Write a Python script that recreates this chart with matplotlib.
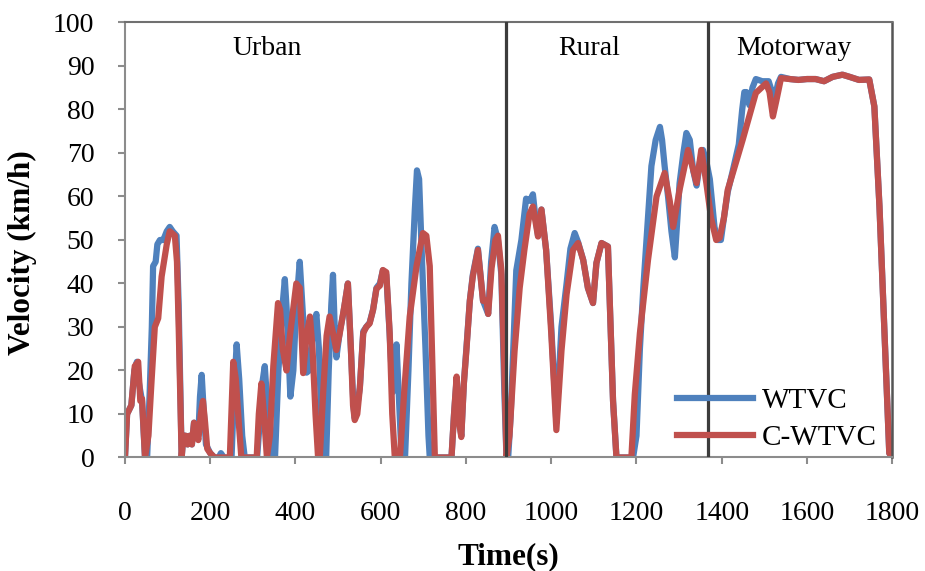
import matplotlib
matplotlib.use("Agg")
import matplotlib.pyplot as plt

# WTVC vs C-WTVC velocity
wtvc_t = [0, 5, 15, 22, 28, 33, 40, 47, 52, 58, 63, 66, 72, 76, 82, 90, 98, 105, 112, 121, 126, 133,
          137, 142, 147, 152, 157, 162, 167, 172, 176, 180, 184, 190, 200, 210, 220, 225, 232, 250,
          256, 262, 268, 275, 281, 310, 316, 322, 328, 334, 340, 346, 352, 360, 368, 375, 380, 388,
          395, 402, 410, 418, 426, 432, 440, 449, 455, 462, 468, 472, 478, 484, 488, 492, 496, 504,
          512, 523, 530, 536, 539, 545, 551, 559, 566, 574, 582, 590, 598, 605, 613, 620, 628, 633,
          637, 642, 649, 657, 665, 672, 680, 685, 690, 697, 705, 712, 715, 766, 772, 778, 785, 789,
          795, 801, 809, 816, 828, 836, 840, 852, 859, 867, 875, 883, 890, 895, 899, 905, 918, 930,
          941, 950, 957, 962, 969, 977, 988, 1000, 1012, 1024, 1036, 1045, 1055, 1063, 1075, 1086,
          1098, 1106, 1118, 1133, 1145, 1153, 1192, 1200, 1208, 1216, 1227, 1235, 1245, 1255, 1260,
          1266, 1274, 1282, 1290, 1296, 1301, 1310, 1317, 1325, 1333, 1341, 1349, 1356, 1364, 1372,
          1383, 1390, 1398, 1405, 1414, 1426, 1440, 1448, 1453, 1458, 1465, 1472, 1480, 1495, 1510,
          1518, 1525, 1532, 1539, 1560, 1580, 1600, 1620, 1640, 1660, 1683, 1700, 1722, 1746, 1758,
          1770, 1793, 1800]
wtvc_v = [0, 10, 12, 20, 22, 17, 13, 0, 0, 15, 30, 44, 45, 49, 50, 50, 52, 53, 52, 51, 35, 0,
          5, 5, 3, 5, 3, 8, 7, 5, 14, 19, 12, 3, 1, 0, 0, 1, 0, 0,
          15, 26, 18, 5, 0, 0, 8, 17, 21, 12, 5, 0, 0, 20, 33, 41, 33, 14,
          20, 35, 45, 32, 19.5, 20, 28, 33, 25, 5, 0, 0, 20, 35, 42, 30, 23, 29,
          33, 40, 25, 12, 9, 12, 16, 29, 30, 31, 34, 39, 40, 43, 42, 30, 15, 20,
          26, 15, 0, 0, 20, 40, 57, 66, 64, 45, 25, 5, 0, 0, 10, 18, 8, 5,
          17, 25, 36, 42, 48, 40, 36, 33, 45, 53, 50, 42, 15, 0, 0, 10, 43, 50,
          59.5, 59, 60.5, 56, 51, 57, 47.7, 30, 8, 30, 40, 48, 51.6, 49.5, 45.4, 39,
          35.5, 44.7, 49.3, 48.5, 13, 0, 0, 5, 25, 39, 55, 67, 73, 76, 73,
          67, 60, 52, 46, 55, 63, 70, 74.6, 73, 66, 62.5, 68, 70.7, 68, 64,
          53, 50, 50, 55, 61, 66, 72, 80, 84, 84, 81, 85, 87, 86.5, 86.5,
          84, 83, 86, 87.5, 87, 86.8, 87, 87, 86.5, 87.5, 88, 87.5, 86.8, 86.9, 80.7,
          57.7, 1, 0]

cwtvc_t = [0, 5, 15, 23, 31, 36, 40, 47, 55, 62, 70, 78, 86, 98, 105, 117, 122, 126, 133,
           137, 142, 147, 152, 157, 162, 167, 172, 178, 183, 188, 193, 200, 210, 246, 254, 260,
           267, 273, 309, 314, 320, 326, 333, 340, 348, 359, 364, 370, 379, 387, 402, 410, 418,
           426, 434, 440, 447, 453, 457, 465, 473, 480, 488, 496, 504, 515, 523, 530, 535, 539,
           545, 551, 559, 566, 574, 582, 590, 598, 605, 613, 621, 627, 633, 645, 655, 668, 684,
           699, 707, 715, 723, 727, 766, 772, 778, 784, 789, 795, 801, 809, 816, 828, 836, 840,
           848, 852, 860, 869, 875, 883, 890, 895, 902, 914, 926, 937, 949, 957, 969, 977, 988,
           1000, 1012, 1024, 1036, 1051, 1063, 1075, 1086, 1098, 1106, 1118, 1133, 1145, 1153,
           1188, 1196, 1208, 1227, 1247, 1266, 1278, 1286, 1301, 1321, 1341, 1352, 1364, 1375,
           1387, 1395, 1405, 1414, 1426, 1449, 1480, 1504, 1512, 1520, 1528, 1539, 1560, 1580,
           1600, 1620, 1640, 1660, 1683, 1700, 1722, 1746, 1758, 1770, 1793, 1800]
cwtvc_v = [0, 10, 12, 21, 22, 13, 13.5, 0, 5, 17, 30, 32, 41.6, 49, 52, 51, 45, 30, 0,
           5, 5, 3, 5, 3, 8, 7, 4, 10, 13, 8, 2, 1, 0, 0, 22, 18,
           8, 0, 0, 10, 17, 10, 0, 5, 21, 35.5, 34, 25, 20, 28, 40, 39, 19.4,
           28, 32.4, 25, 10, 0, 0, 15, 28, 32.4, 28.6, 24.7, 28.6, 35, 40, 25, 12, 8.6,
           10, 16, 28.6, 30, 30.8, 33.9, 38.8, 39.5, 43.1, 42.6, 28.6, 10, 0, 0, 15, 32.4, 44,
           51.6, 51, 44, 15, 0, 0, 10, 18.6, 8, 4.7, 17, 24.7, 36, 41.6, 47.7, 40, 36,
           36, 33, 43.5, 50, 51, 43, 20, 0, 5, 24.5, 39, 47.7, 56, 57.7, 50.8, 57, 47.7,
           28.6, 6.3, 24.5, 37.5, 47.7, 49.3, 45.4, 39, 35.5, 44.7, 49.3, 48.5, 13, 0,
           0, 14.5, 28.6, 45.4, 60, 65.4, 59, 53, 61.5, 70.7, 63.1, 70.7, 63, 55,
           50, 50.5, 55, 61.5, 65.4, 73, 83.8, 86, 84, 78.4, 82, 87.2, 87, 86.8,
           87, 87, 86.5, 87.5, 88, 87.5, 86.8, 86.9, 80.7, 57.7, 1, 0]

section_bounds = [895, 1368]
section_names = ["Urban", "Rural", "Motorway"]
section_centers = [334, 1090, 1570]

plt.rcParams['font.family'] = ['Liberation Serif', 'DejaVu Serif']

fig = plt.figure(figsize=(9.25, 5.71), dpi=100)
ax = fig.add_axes([0.1351, 0.1988, 0.8295, 0.7618])

ax.plot(wtvc_t, wtvc_v, color='#4F81BD', lw=4.5, solid_joinstyle='round', label='WTVC')
ax.plot(cwtvc_t, cwtvc_v, color='#C0504D', lw=4.5, solid_joinstyle='round', label='C-WTVC')

for b in section_bounds:
    ax.axvline(b, color='#3c3c3c', lw=2.3, zorder=3)
for name, c in zip(section_names, section_centers):
    ax.text(c, 92.6, name, ha='center', va='baseline', fontsize=20)

ax.set_xlim(0, 1800)
ax.set_ylim(0, 100)
ax.set_xticks(range(0, 1801, 200))
ax.set_yticks(range(0, 101, 10))
ax.tick_params(axis='both', labelsize=20, color='#8c8c8c', width=1.5, length=5, direction='out')
ax.tick_params(axis='x', pad=26)
ax.tick_params(axis='y', pad=17)

for s in ['left', 'bottom']:
    ax.spines[s].set_color('#8c8c8c')
    ax.spines[s].set_linewidth(1.5)
ax.spines['top'].set_color('#707070')
ax.spines['top'].set_linewidth(1.5)
ax.spines['right'].set_color('#555555')
ax.spines['right'].set_linewidth(1.8)

ax.set_xlabel('Time(s)', fontsize=22.5, fontweight='bold')
ax.set_ylabel('Velocity (km/h)', fontsize=22.5, fontweight='bold')
ax.xaxis.set_label_coords(0.5, -0.195)
ax.yaxis.set_label_coords(-0.134, 0.47)
ax.yaxis.label.set_va('center')

ax.legend(loc='lower right', bbox_to_anchor=(0.98, 0.015), frameon=False, fontsize=21,
          handlelength=2.6, handletextpad=0.3, labelspacing=0.35, borderaxespad=0, borderpad=0)

fig.savefig('out.png', dpi=100)
